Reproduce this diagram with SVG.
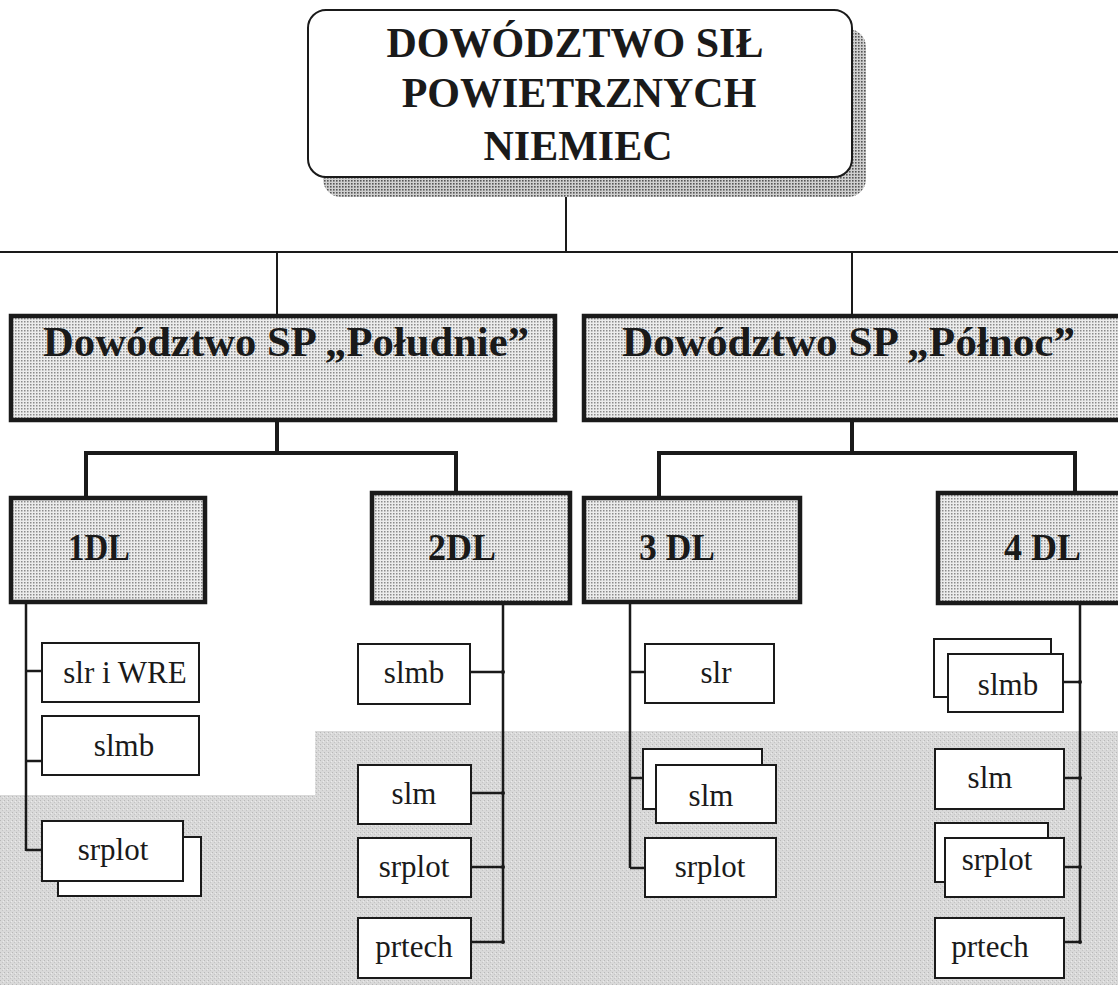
<svg xmlns="http://www.w3.org/2000/svg" width="1118" height="985" viewBox="0 0 1118 985">
<defs>
<pattern id="dots" width="3" height="3" patternUnits="userSpaceOnUse">
<rect width="3" height="3" fill="#ececec"/>
<rect x="0" y="0" width="1.5" height="1.5" fill="#8a8a8a"/>
</pattern>
<pattern id="shadow" width="3" height="3" patternUnits="userSpaceOnUse">
<rect width="3" height="3" fill="#d0d0d0"/>
<rect x="0" y="0" width="1.6" height="1.6" fill="#555"/>
</pattern>
<pattern id="scan" width="4" height="4" patternUnits="userSpaceOnUse">
<rect width="4" height="4" fill="#d9d9d9"/>
<rect x="0" y="0" width="1" height="1" fill="#b8b8b8"/>
<rect x="2" y="2" width="1" height="1" fill="#c4c4c4"/>
<rect x="3" y="1" width="1" height="1" fill="#ebebeb"/>
</pattern>
</defs>
<style>
.thin{fill:none;stroke:#1a1a1a;stroke-width:2}
.mid{fill:none;stroke:#1a1a1a;stroke-width:2.5}
.thick{fill:none;stroke:#1a1a1a;stroke-width:4}
.hq{fill:url(#dots);stroke:#1a1a1a;stroke-width:4.5}
.unit{fill:#fff;stroke:#1a1a1a;stroke-width:2}
text{font-family:'Liberation Serif',serif;fill:#1a1a1a}
.big{font-weight:bold;font-size:42px;text-anchor:middle}
.lvl{font-weight:bold;font-size:42px}
.dl{font-weight:bold;font-size:38px}
.sm{font-size:31px;text-anchor:middle}
</style>
<rect width="1118" height="985" fill="#fff"/>
<polygon points="315,731 1118,731 1118,985 0,985 0,795 315,795" fill="url(#scan)"/>

<g id="connectors">
<line class="thin" x1="566" y1="178" x2="566" y2="252"/>
<line class="thin" x1="0" y1="252" x2="1118" y2="252"/>
<line class="thin" x1="277" y1="252" x2="277" y2="316"/>
<line class="thin" x1="852" y1="252" x2="852" y2="316"/>
<polyline class="thick" points="277,420 277,453"/>
<polyline class="thick" points="86,498 86,453 456,453 456,493"/>
<polyline class="thick" points="852,420 852,453"/>
<polyline class="thick" points="659,498 659,453 1075,453 1075,493"/>
<line class="mid" x1="26" y1="602" x2="26" y2="851"/>
<line class="mid" x1="26" y1="671" x2="42" y2="671"/>
<line class="mid" x1="26" y1="761" x2="42" y2="761"/>
<line class="mid" x1="26" y1="850" x2="42" y2="850"/>
<line class="mid" x1="503" y1="603" x2="503" y2="942"/>
<line class="mid" x1="470" y1="672" x2="503" y2="672"/>
<line class="mid" x1="471" y1="793" x2="503" y2="793"/>
<line class="mid" x1="471" y1="867" x2="503" y2="867"/>
<line class="mid" x1="471" y1="942" x2="503" y2="942"/>
<line class="mid" x1="630" y1="602" x2="630" y2="868"/>
<line class="mid" x1="630" y1="672" x2="645" y2="672"/>
<line class="mid" x1="630" y1="778" x2="643" y2="778"/>
<line class="mid" x1="630" y1="868" x2="645" y2="868"/>
<line class="mid" x1="1080" y1="603" x2="1080" y2="943"/>
<line class="mid" x1="1063" y1="682" x2="1080" y2="682"/>
<line class="mid" x1="1064" y1="778" x2="1080" y2="778"/>
<line class="mid" x1="1064" y1="867" x2="1080" y2="867"/>
<line class="mid" x1="1064" y1="942" x2="1080" y2="942"/>
<g fill="#1a1a1a">
<circle cx="503" cy="672" r="2"/><circle cx="503" cy="793" r="2"/><circle cx="503" cy="867" r="2"/><circle cx="503" cy="942" r="2"/>
<circle cx="1080" cy="682" r="2"/><circle cx="1080" cy="778" r="2"/><circle cx="1080" cy="867" r="2"/><circle cx="1080" cy="942" r="2"/>
</g>
</g>

<g id="dsp-niemiec">
<rect x="323" y="29" width="543" height="168" rx="18" fill="url(#shadow)"/>
<rect x="308" y="10" width="544" height="167" rx="18" fill="#fff" stroke="#1a1a1a" stroke-width="2"/>
<text class="big" x="575" y="57" font-family="Liberation Serif, serif">DOWÓDZTWO SIŁ</text>
<text class="big" x="579" y="107" font-family="Liberation Serif, serif">POWIETRZNYCH</text>
<text class="big" x="578" y="160" font-family="Liberation Serif, serif">NIEMIEC</text>
</g>

<g id="dsp-poludnie">
<rect class="hq" x="11" y="316" width="544" height="104"/>
<text class="lvl" x="43" y="356" textLength="486" lengthAdjust="spacingAndGlyphs" font-family="Liberation Serif, serif">Dowództwo SP „Południe”</text>
</g>
<g id="dsp-polnoc">
<rect class="hq" x="584" y="316" width="540" height="104"/>
<text class="lvl" x="622" y="356" textLength="453" lengthAdjust="spacingAndGlyphs" font-family="Liberation Serif, serif">Dowództwo SP „Północ”</text>
</g>

<g id="dl1">
<rect class="hq" x="11" y="498" width="194" height="104"/>
<text class="dl" x="68" y="560" textLength="62" lengthAdjust="spacingAndGlyphs" font-family="Liberation Serif, serif">1DL</text>
</g>
<g id="dl2">
<rect class="hq" x="372" y="493" width="198" height="110"/>
<text class="dl" x="428" y="560" textLength="68" lengthAdjust="spacingAndGlyphs" font-family="Liberation Serif, serif">2DL</text>
</g>
<g id="dl3">
<rect class="hq" x="584" y="498" width="216" height="104"/>
<text class="dl" x="639" y="560" textLength="76" lengthAdjust="spacingAndGlyphs" font-family="Liberation Serif, serif">3 DL</text>
</g>
<g id="dl4">
<rect class="hq" x="938" y="493" width="186" height="110"/>
<text class="dl" x="1004" y="560" textLength="77" lengthAdjust="spacingAndGlyphs" font-family="Liberation Serif, serif">4 DL</text>
</g>

<g id="u1-slr-wre"><rect class="unit" x="42" y="643" width="157" height="59"/><text class="sm" x="125" y="683" font-family="Liberation Serif, serif">slr i WRE</text></g>
<g id="u1-slmb"><rect class="unit" x="42" y="716" width="157" height="59"/><text class="sm" x="124" y="756" font-family="Liberation Serif, serif">slmb</text></g>
<g id="u1-srplot"><rect class="unit" x="58" y="837" width="143" height="59"/><rect class="unit" x="42" y="821" width="141" height="60"/><text class="sm" x="113" y="860" font-family="Liberation Serif, serif">srplot</text></g>

<g id="u2-slmb"><rect class="unit" x="358" y="644" width="112" height="60"/><text class="sm" x="414" y="683" font-family="Liberation Serif, serif">slmb</text></g>
<g id="u2-slm"><rect class="unit" x="358" y="765" width="113" height="59"/><text class="sm" x="414" y="804" font-family="Liberation Serif, serif">slm</text></g>
<g id="u2-srplot"><rect class="unit" x="358" y="838" width="113" height="59"/><text class="sm" x="414" y="877" font-family="Liberation Serif, serif">srplot</text></g>
<g id="u2-prtech"><rect class="unit" x="358" y="918" width="113" height="60"/><text class="sm" x="414" y="957" font-family="Liberation Serif, serif">prtech</text></g>

<g id="u3-slr"><rect class="unit" x="645" y="644" width="129" height="59"/><text class="sm" x="716" y="683" font-family="Liberation Serif, serif">slr</text></g>
<g id="u3-slm"><rect class="unit" x="643" y="749" width="119" height="60"/><rect class="unit" x="656" y="765" width="120" height="58"/><text class="sm" x="711" y="806" font-family="Liberation Serif, serif">slm</text></g>
<g id="u3-srplot"><rect class="unit" x="645" y="838" width="131" height="59"/><text class="sm" x="710" y="877" font-family="Liberation Serif, serif">srplot</text></g>

<g id="u4-slmb"><rect class="unit" x="934" y="639" width="117" height="58"/><rect class="unit" x="948" y="654" width="115" height="58"/><text class="sm" x="1008" y="695" font-family="Liberation Serif, serif">slmb</text></g>
<g id="u4-slm"><rect class="unit" x="935" y="749" width="129" height="60"/><text class="sm" x="990" y="788" font-family="Liberation Serif, serif">slm</text></g>
<g id="u4-srplot"><rect class="unit" x="935" y="823" width="113" height="59"/><rect class="unit" x="945" y="838" width="119" height="59"/><text class="sm" x="997" y="870" font-family="Liberation Serif, serif">srplot</text></g>
<g id="u4-prtech"><rect class="unit" x="935" y="918" width="129" height="60"/><text class="sm" x="990" y="957" font-family="Liberation Serif, serif">prtech</text></g>
</svg>
